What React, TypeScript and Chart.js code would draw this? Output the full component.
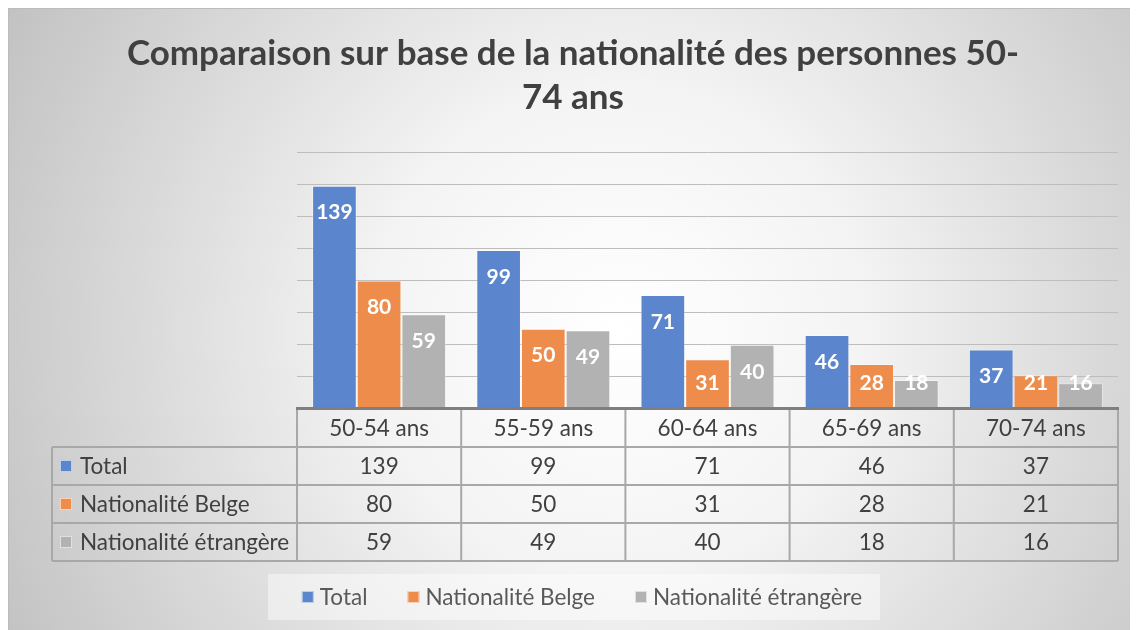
import { useEffect, useRef } from "react";
import { Chart, registerables } from "chart.js";

Chart.register(...registerables);

const categories = ["50-54 ans", "55-59 ans", "60-64 ans", "65-69 ans", "70-74 ans"];
const seriesNames = ["Total", "Nationalité Belge", "Nationalité étrangère"];
const totalValues = [139, 99, 71, 46, 37];
const belgeValues = [80, 50, 31, 28, 21];
const etrangereValues = [59, 49, 40, 18, 16];
const seriesColors = ["#5b86cd", "#ee8c4c", "#b2b2b2"];
const titleLines = ["Comparaison sur base de la nationalité des personnes 50-", "74 ans"];
const yMin = 0;
const yMax = 160;
const yStep = 20;

const FONT = "Lato, 'Open Sans', sans-serif";
const TEXT = "#404040";

const backgroundPlugin = {
  id: "bgGradient",
  beforeDraw(chart: any) {
    const { ctx, width, height } = chart;
    ctx.save();
    const cx = width * 0.54;
    const cy = height * 0.52;
    const g = ctx.createRadialGradient(cx, cy, 0, cx, cy, Math.hypot(cx, cy));
    g.addColorStop(0, "#ffffff");
    g.addColorStop(0.35, "#f4f4f4");
    g.addColorStop(1, "#c2c2c2");
    ctx.fillStyle = g;
    ctx.fillRect(0, 0, width, height);
    ctx.strokeStyle = "#bcbcbc";
    ctx.lineWidth = 1;
    ctx.beginPath();
    ctx.moveTo(0.5, height);
    ctx.lineTo(0.5, 0.5);
    ctx.lineTo(width, 0.5);
    ctx.stroke();
    ctx.restore();
  },
};

const barLabelPlugin = {
  id: "barLabels",
  afterDatasetsDraw(chart: any) {
    const { ctx } = chart;
    ctx.save();
    ctx.font = `bold 21px ${FONT}`;
    ctx.fillStyle = "#ffffff";
    ctx.textAlign = "center";
    ctx.textBaseline = "middle";
    chart.data.datasets.forEach((ds: any, di: number) => {
      const meta = chart.getDatasetMeta(di);
      meta.data.forEach((bar: any, i: number) => {
        const y = Math.min(bar.y + 27, bar.base - 25);
        ctx.fillText(String(ds.data[i]), bar.x, y);
      });
    });
    ctx.restore();
  },
};

const tablePlugin = {
  id: "dataTable",
  afterDraw(chart: any) {
    const { ctx, chartArea } = chart;
    const xs = chart.scales.x;
    const n = categories.length;
    const colW = (chartArea.right - chartArea.left) / n;
    const rowH = 38;
    const top = chartArea.bottom;
    const tableLeft = 44;
    const rows = chart.data.datasets.length;
    const bottom = top + rowH * (rows + 1);
    ctx.save();

    ctx.strokeStyle = "#a8a8a8";
    ctx.lineWidth = 2;
    ctx.beginPath();
    for (let k = 1; k <= rows + 1; k++) {
      const y = top + rowH * k;
      ctx.moveTo(tableLeft, y);
      ctx.lineTo(chartArea.right, y);
    }
    for (let i = 0; i <= n; i++) {
      const x = chartArea.left + colW * i;
      ctx.moveTo(x, top);
      ctx.lineTo(x, bottom);
    }
    ctx.moveTo(tableLeft, top + rowH);
    ctx.lineTo(tableLeft, bottom);
    ctx.stroke();

    ctx.strokeStyle = "#7f7f7f";
    ctx.lineWidth = 3;
    ctx.beginPath();
    ctx.moveTo(chartArea.left - 1, top - 0.5);
    ctx.lineTo(chartArea.right + 1, top - 0.5);
    ctx.stroke();

    ctx.font = `22.5px ${FONT}`;
    ctx.fillStyle = TEXT;
    ctx.textAlign = "center";
    ctx.textBaseline = "middle";
    categories.forEach((c, i) => {
      const x = xs.getPixelForValue(i);
      ctx.fillText(c, x, top + rowH / 2 + 1);
    });
    chart.data.datasets.forEach((ds: any, r: number) => {
      const cy = top + rowH * (r + 1) + rowH / 2 + 1;
      ds.data.forEach((v: number, i: number) => {
        ctx.fillStyle = TEXT;
        ctx.textAlign = "center";
        ctx.fillText(String(v), xs.getPixelForValue(i), cy);
      });
      ctx.fillStyle = ds.backgroundColor;
      ctx.fillRect(tableLeft + 8, cy - 7, 12, 12);
      ctx.strokeStyle = "rgba(255,255,255,0.6)";
      ctx.lineWidth = 1;
      ctx.strokeRect(tableLeft + 8.5, cy - 6.5, 11, 11);
      ctx.fillStyle = TEXT;
      ctx.textAlign = "left";
      ctx.fillText(ds.label, tableLeft + 28, cy);
    });
    ctx.restore();
  },
};

const legendPlugin = {
  id: "customLegend",
  afterDraw(chart: any) {
    const { ctx } = chart;
    const cy = 589;
    ctx.save();
    ctx.fillStyle = "rgba(255,255,255,0.45)";
    ctx.fillRect(260, 566, 612, 46);
    ctx.font = `22.5px ${FONT}`;
    ctx.textBaseline = "middle";
    ctx.textAlign = "left";
    const items = chart.data.datasets.map((ds: any) => ({
      label: ds.label,
      color: ds.backgroundColor,
      w: 12 + 6 + ctx.measureText(ds.label).width,
    }));
    const gap = 40;
    const total = items.reduce((s: number, it: any) => s + it.w, 0) + gap * (items.length - 1);
    let x = 574 - total / 2;
    items.forEach((it: any) => {
      ctx.fillStyle = it.color;
      ctx.fillRect(x, cy - 6, 12, 12);
      ctx.strokeStyle = "rgba(255,255,255,0.6)";
      ctx.lineWidth = 1;
      ctx.strokeRect(x + 0.5, cy - 5.5, 11, 11);
      ctx.fillStyle = "#595959";
      ctx.fillText(it.label, x + 18, cy + 1);
      x += it.w + gap;
    });
    ctx.restore();
  },
};

export default function App() {
  const ref = useRef<HTMLCanvasElement | null>(null);
  useEffect(() => {
    if (!ref.current) return;
    const chart = new Chart(ref.current, {
      type: "bar",
      data: {
        labels: categories,
        datasets: [
          { label: seriesNames[0], data: totalValues, backgroundColor: seriesColors[0] },
          { label: seriesNames[1], data: belgeValues, backgroundColor: seriesColors[1] },
          { label: seriesNames[2], data: etrangereValues, backgroundColor: seriesColors[2] },
        ].map((d) => ({
          ...d,
          borderColor: "rgba(255,255,255,0.35)",
          borderWidth: 1,
          categoryPercentage: 0.816,
          barPercentage: 1,
        })),
      },
      options: {
        responsive: false,
        animation: false,
        events: [],
        layout: { padding: 0 },
        plugins: {
          legend: { display: false },
          tooltip: { enabled: false },
          title: {
            display: true,
            text: titleLines,
            color: TEXT,
            font: { family: FONT, size: 35, weight: "bold", lineHeight: "44px" },
            padding: { top: 24, bottom: 32 },
          },
        },
        scales: {
          x: {
            ticks: { display: false },
            grid: { display: false },
            border: { display: false },
            afterFit: (s: any) => {
              s.height = 221;
            },
          },
          y: {
            min: yMin,
            max: yMax,
            ticks: { display: false, stepSize: yStep },
            grid: { color: "#bdbdbd", drawTicks: false, lineWidth: 1 },
            border: { display: false },
            afterFit: (s: any) => {
              s.width = 289;
            },
          },
          y2: {
            position: "right",
            display: true,
            ticks: { display: false },
            grid: { display: false },
            border: { display: false },
            afterFit: (s: any) => {
              s.width = 20;
            },
          },
        },
      } as any,
      plugins: [backgroundPlugin, barLabelPlugin, tablePlugin, legendPlugin],
    });
    return () => chart.destroy();
  }, []);
  return (
    <div>
      <canvas ref={ref} width={1130} height={622} style={{ display: "block", width: 1130, height: 622 }} />
    </div>
  );
}
